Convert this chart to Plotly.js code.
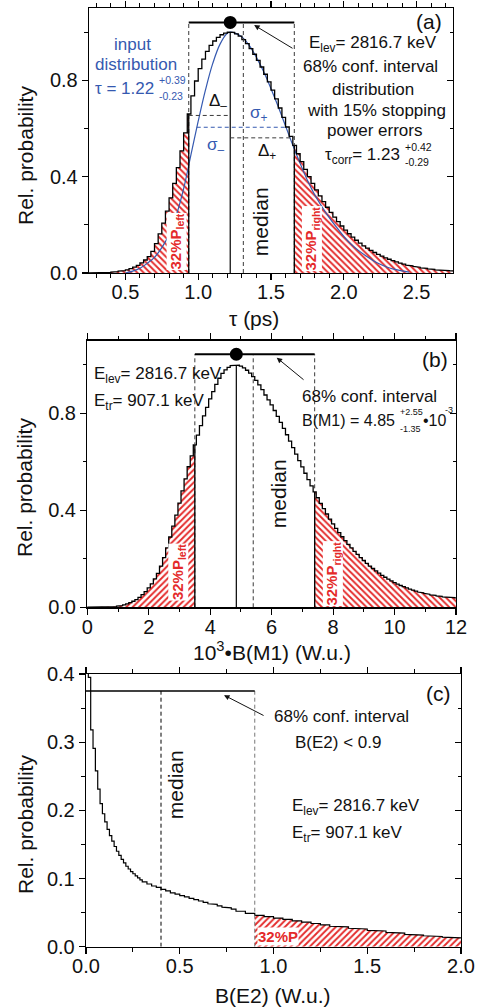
<!DOCTYPE html>
<html><head><meta charset="utf-8">
<script src="https://cdn.plot.ly/plotly-3.0.1.min.js"></script>
<style>html,body{margin:0;padding:0;background:#fff}#chart{width:480px;height:1008px}</style>
</head><body><div id="chart"></div>
<script>
// ---------- Panel (a): lifetime distribution ----------
const tauEdge0 = 0.25, tauBinW = 0.025;
const tauProb = [
 0.000,0.001,0.001,0.002,0.002,0.003,0.004,0.006,0.008,0.010,
 0.013,0.018,0.024,0.032,0.042,0.054,0.068,0.090,0.122,0.162,
 0.207,0.257,0.312,0.372,0.437,0.507,0.582,0.660,0.735,0.797,
 0.848,0.888,0.920,0.945,0.963,0.978,0.989,0.996,1.000,0.999,
 0.993,0.983,0.969,0.952,0.931,0.908,0.883,0.855,0.825,0.793,
 0.759,0.723,0.685,0.646,0.606,0.567,0.530,0.495,0.462,0.430,
 0.400,0.372,0.345,0.320,0.296,0.273,0.252,0.232,0.213,0.195,
 0.178,0.163,0.149,0.136,0.124,0.113,0.103,0.094,0.085,0.077,
 0.070,0.063,0.057,0.051,0.046,0.041,0.037,0.033,0.030,0.027,
 0.024,0.021,0.019,0.017,0.015,0.013,0.012,0.011,0.010,0.009];
const inputTau  = [0.50,0.55,0.60,0.65,0.70,0.75,0.80,0.85,0.90,0.95,1.00,1.05,1.10,1.15,1.20,1.22,1.25,1.30,1.35,1.40,1.45,1.50,1.55,1.60,1.65,1.70,1.75,1.80,1.85,1.90,1.95,2.00,2.05,2.10,2.15,2.20,2.25,2.30,2.35,2.40,2.45];
const inputProb = [0.000,0.008,0.020,0.040,0.065,0.105,0.160,0.240,0.350,0.490,0.630,0.760,0.870,0.950,0.995,1.000,0.997,0.980,0.945,0.895,0.835,0.765,0.690,0.610,0.530,0.455,0.385,0.325,0.275,0.230,0.190,0.152,0.120,0.094,0.072,0.052,0.036,0.024,0.015,0.009,0.004];
const tauLo = 0.935, tauHi = 1.66, tauMode = 1.22, tauMedian = 1.31, confLevelA = 1.04;
const deltaMinusLevel = 0.654, deltaPlusLevel = 0.561, sigmaLevel = 0.605, sigmaLo = 0.99, sigmaHi = 1.61;

// ---------- Panel (b): B(M1) distribution ----------
const bm1Center0 = 0, bm1BinW = 0.1;
const bm1Prob = [
 0,0,0,0,0,0,0,0.001,0.002,0.003,
 0.005,0.007,0.010,0.014,0.019,0.025,0.032,0.041,0.052,0.065,
 0.080,0.097,0.117,0.140,0.170,0.205,0.245,0.290,0.335,0.380,
 0.430,0.480,0.530,0.580,0.625,0.670,0.710,0.750,0.790,0.825,
 0.860,0.890,0.920,0.945,0.965,0.980,0.990,0.997,1.000,0.999,
 0.995,0.988,0.978,0.966,0.952,0.936,0.918,0.898,0.876,0.856,
 0.835,0.812,0.788,0.763,0.738,0.712,0.686,0.659,0.632,0.605,
 0.579,0.553,0.527,0.501,0.476,0.452,0.429,0.407,0.385,0.364,
 0.344,0.326,0.308,0.291,0.275,0.260,0.245,0.231,0.218,0.205,
 0.193,0.181,0.170,0.160,0.150,0.141,0.132,0.124,0.116,0.109,
 0.102,0.096,0.090,0.085,0.080,0.075,0.071,0.067,0.063,0.060,
 0.057,0.054,0.051,0.049,0.047,0.045,0.043,0.042,0.041,0.040,
 0.039];
const bLo = 3.5, bHi = 7.4, bMode = 4.85, bMedian = 5.4, confLevelB = 1.044;

// ---------- Panel (c): B(E2) distribution ----------
const be2Edges = [0,0.0125,0.025,0.0375,0.05,0.0625,0.075,0.0875,0.1,0.1125,0.125,0.1375,0.15,0.1625,0.175,0.1875,0.2,0.2125,0.225,0.2375,0.25,0.2625,0.275,0.2875,0.3,
 0.325,0.35,0.375,0.4,0.425,0.45,0.475,0.5,0.525,0.55,0.575,0.6,0.625,0.65,0.675,0.7,0.725,0.75,0.775,0.8,
 0.85,0.9,0.95,1.0,1.05,1.1,1.15,1.2,1.25,1.3,1.35,1.4,1.45,1.5,1.55,1.6,1.65,1.7,1.75,1.8,1.85,1.9,1.95,2.0];
const be2Prob = [0.9,0.395,0.318,0.291,0.258,0.231,0.210,0.195,0.183,0.172,0.163,0.155,0.147,0.140,0.134,0.128,0.123,0.118,0.114,0.110,0.107,0.104,0.101,0.098,
 0.095,0.092,0.089,0.087,0.084,0.082,0.079,0.077,0.075,0.073,0.071,0.069,0.067,0.065,0.063,0.062,0.060,0.058,0.057,0.055,
 0.052,0.049,0.046,0.044,0.042,0.040,0.038,0.036,0.034,0.032,0.030,0.029,0.027,0.026,0.024,0.023,0.021,0.020,0.018,0.017,0.016,0.015,0.014,0.013];
const be2Limit = 0.9, be2Median = 0.4, confLevelC = 0.375;

// ---------- helpers ----------
const FONT = 'Liberation Sans, Arial, Helvetica, sans-serif';
const RED = '#e42a2a', BLUE = '#3559b0', DASHC = '#3a3a3a';
const tauEdges = Array.from({length: tauProb.length + 1}, (_, i) => tauEdge0 + i * tauBinW);
const bm1Edges = Array.from({length: bm1Prob.length + 1}, (_, i) => bm1Center0 - bm1BinW / 2 + i * bm1BinW);

function stepXY(edges, vals, lo, hi) {
  const x = [], y = [];
  for (let i = 0; i < vals.length; i++) {
    let l = edges[i], r = edges[i + 1];
    if (r <= lo || l >= hi) continue;
    l = Math.max(l, lo); r = Math.min(r, hi);
    x.push(l, r); y.push(vals[i], vals[i]);
  }
  return {x, y};
}
function valueAt(edges, vals, x) {
  for (let i = 0; i < vals.length; i++) if (x >= edges[i] && x < edges[i + 1]) return vals[i];
  return 0;
}
function line(xa, ya, x, y, color, width, dash, extra) {
  return Object.assign({type: 'scatter', mode: 'lines', x, y, xaxis: xa, yaxis: ya,
    line: {color, width, dash: dash || 'solid'}, hoverinfo: 'skip'}, extra || {});
}
function hatch(xa, ya, s, shape) {
  return {type: 'scatter', mode: 'lines', x: s.x, y: s.y, xaxis: xa, yaxis: ya, fill: 'tozeroy',
    fillcolor: 'white', line: {width: 0, color: RED}, hoverinfo: 'skip',
    fillpattern: {shape, fgcolor: RED, bgcolor: 'white', size: 4.5, solidity: 0.42, fillmode: 'replace'}};
}
const DASH = '4px,3px';
const traces = [];

// Panel (a) traces
traces.push(hatch('x', 'y', stepXY(tauEdges, tauProb, -Infinity, tauLo), '\\'));
traces.push(hatch('x', 'y', stepXY(tauEdges, tauProb, tauHi, Infinity), '\\'));
traces.push(line('x', 'y', inputTau, inputProb, BLUE, 1.2, 'solid', {line: {color: BLUE, width: 1.2, shape: 'spline'}}));
const aCurve = stepXY(tauEdges, tauProb, -Infinity, Infinity);
traces.push(line('x', 'y', aCurve.x, aCurve.y, '#000', 1.3));
traces.push(line('x', 'y', [tauLo, tauLo], [0, confLevelA], DASHC, 1, DASH));
traces.push(line('x', 'y', [tauHi, tauHi], [0, confLevelA], DASHC, 1, DASH));
traces.push(line('x', 'y', [tauLo, tauLo], [0, valueAt(tauEdges, tauProb, tauLo)], '#000', 1.3));
traces.push(line('x', 'y', [tauHi, tauHi], [0, valueAt(tauEdges, tauProb, tauHi)], '#000', 1.3));
traces.push(line('x', 'y', [tauMedian, tauMedian], [0, confLevelA], DASHC, 1, DASH));
traces.push(line('x', 'y', [tauMode, tauMode], [0, Math.max(...tauProb)], '#000', 1.2));
traces.push(line('x', 'y', [tauLo, tauMode], [deltaMinusLevel, deltaMinusLevel], DASHC, 1, DASH));
traces.push(line('x', 'y', [sigmaLo, sigmaHi], [sigmaLevel, sigmaLevel], BLUE, 1, DASH));
traces.push(line('x', 'y', [tauMode, tauHi], [deltaPlusLevel, deltaPlusLevel], DASHC, 1, DASH));
traces.push(line('x', 'y', [tauLo, tauHi], [confLevelA, confLevelA], '#000', 2));
traces.push({type: 'scatter', mode: 'markers', x: [tauMode], y: [confLevelA], xaxis: 'x', yaxis: 'y',
  marker: {color: '#000', size: 13}, hoverinfo: 'skip'});

// Panel (b) traces
traces.push(hatch('x2', 'y2', stepXY(bm1Edges, bm1Prob, -Infinity, bLo), '/'));
traces.push(hatch('x2', 'y2', stepXY(bm1Edges, bm1Prob, bHi, Infinity), '\\'));
const bCurve = stepXY(bm1Edges, bm1Prob, -Infinity, Infinity);
traces.push(line('x2', 'y2', bCurve.x, bCurve.y, '#000', 1.3));
traces.push(line('x2', 'y2', [bLo, bLo], [0, confLevelB], DASHC, 1, DASH));
traces.push(line('x2', 'y2', [bHi, bHi], [0, confLevelB], DASHC, 1, DASH));
traces.push(line('x2', 'y2', [bLo, bLo], [0, valueAt(bm1Edges, bm1Prob, bLo)], '#000', 1.3));
traces.push(line('x2', 'y2', [bHi, bHi], [0, valueAt(bm1Edges, bm1Prob, bHi)], '#000', 1.3));
traces.push(line('x2', 'y2', [bMedian, bMedian], [0, confLevelB], DASHC, 1, DASH));
traces.push(line('x2', 'y2', [bMode, bMode], [0, Math.max(...bm1Prob)], '#000', 1.2));
traces.push(line('x2', 'y2', [bLo, bHi], [confLevelB, confLevelB], '#000', 2));
traces.push({type: 'scatter', mode: 'markers', x: [bMode], y: [confLevelB], xaxis: 'x2', yaxis: 'y2',
  marker: {color: '#000', size: 13}, hoverinfo: 'skip'});

// Panel (c) traces
traces.push(hatch('x3', 'y3', stepXY(be2Edges, be2Prob, be2Limit, Infinity), '/'));
const cCurve = stepXY(be2Edges, be2Prob, -Infinity, Infinity);
traces.push(line('x3', 'y3', cCurve.x, cCurve.y, '#000', 1.2));
traces.push(line('x3', 'y3', [be2Median, be2Median], [0, confLevelC], '#000', 1, DASH));
traces.push(line('x3', 'y3', [be2Limit, be2Limit], [0, confLevelC], '#777', 1, DASH));
traces.push(line('x3', 'y3', [0, be2Limit], [confLevelC, confLevelC], '#000', 1.5));

// right-side overlay axes (ticks inside) need a trace each
['y4', 'y5', 'y6'].forEach((ya, i) => traces.push({type: 'scatter', mode: 'lines', x: [], y: [],
  xaxis: ['x', 'x2', 'x3'][i], yaxis: ya, hoverinfo: 'skip'}));

// ---------- axes ----------
const tickFont = {family: FONT, size: 20, color: '#111'};
function xAxis(domain, anchor, range, dtick, minorDtick, fmt) {
  return {domain, anchor, range, dtick, tick0: 0, tickformat: fmt, ticks: 'outside', ticklen: 6, tickwidth: 1.2,
    tickcolor: '#000', minor: {dtick: minorDtick, ticks: 'outside', ticklen: 3.5, tickwidth: 1, tickcolor: '#000'},
    mirror: 'ticks', showline: true, linecolor: '#000', linewidth: 1.3, showgrid: false, zeroline: false,
    tickfont: tickFont, ticklabelstandoff: -5, fixedrange: true};
}
function yAxis(domain, anchor, range, dtick, minorDtick) {
  return {domain, anchor, range, dtick, tick0: 0, tickformat: '.1f', ticks: 'outside', ticklen: 6, tickwidth: 1.2,
    tickcolor: '#000', minor: {dtick: minorDtick, ticks: 'outside', ticklen: 3.5, tickwidth: 1, tickcolor: '#000'},
    showline: true, linecolor: '#000', linewidth: 1.3, showgrid: false, zeroline: false,
    tickfont: tickFont, fixedrange: true};
}
function yRight(anchor, over, range, dtick, minorDtick) {
  return {anchor, overlaying: over, side: 'right', range, dtick, tick0: 0, ticks: 'inside', ticklen: 6, tickwidth: 1.2,
    tickcolor: '#000', minor: {dtick: minorDtick, ticks: 'inside', ticklen: 3.5, tickwidth: 1, tickcolor: '#000'},
    showline: true, linecolor: '#000', linewidth: 1.3, showgrid: false, zeroline: false, showticklabels: false, fixedrange: true};
}
const W = 480, H = 1008;
const layout = {
  width: W, height: H, margin: {l: 0, r: 0, t: 0, b: 0}, paper_bgcolor: '#fff', plot_bgcolor: '#fff',
  showlegend: false, font: {family: FONT, color: '#111'},
  xaxis:  xAxis([89 / W, 453 / W], 'y', [0.25, 2.75], 0.5, 0.1, '.1f'),
  yaxis:  yAxis([(H - 273) / H, (H - 8) / H], 'x', [0, 1.1], 0.4, 0.2),
  yaxis4: yRight('x', 'y', [0, 1.1], 0.4, 0.2),
  xaxis2: xAxis([87.3 / W, 456 / W], 'y2', [0, 12], 2, 1, 'd'),
  yaxis2: yAxis([(H - 607.3) / H, (H - 340.7) / H], 'x2', [0, 1.1], 0.4, 0.2),
  yaxis5: yRight('x2', 'y2', [0, 1.1], 0.4, 0.2),
  xaxis3: xAxis([86 / W, 461 / W], 'y3', [0, 2], 0.5, 0.25, '.1f'),
  yaxis3: yAxis([(H - 946.7) / H, (H - 674) / H], 'x3', [0, 0.4], 0.1, 0.05),
  yaxis6: yRight('x3', 'y3', [0, 0.4], 0.1, 0.05),
  annotations: []
};

// ---------- annotations ----------
function txt(xr, yr, x, y, text, o) {
  o = o || {};
  return Object.assign({xref: xr, yref: yr, x, y, text, showarrow: false, xanchor: 'center', yanchor: 'middle',
    font: {family: FONT, size: o.size || 17, color: o.color || '#111'}}, o.extra || {});
}
function arrow(xr, yr, hx, hy, tx, ty) {
  return {xref: xr, yref: yr, axref: xr, ayref: yr, x: hx, y: hy, ax: tx, ay: ty, text: '', showarrow: true,
    arrowhead: 2, arrowsize: 1.1, arrowwidth: 1, arrowcolor: '#111'};
}
function redLabel(xr, yr, x, y, text, angle) {
  return {xref: xr, yref: yr, x, y, text, showarrow: false, textangle: angle, bgcolor: 'white', borderpad: 0,
    font: {family: FONT, size: 15, color: RED, weight: 'bold'}, xanchor: 'center', yanchor: 'middle'};
}
const A = layout.annotations;
// axis titles (paper coordinates)
const axisTitles = [
  {text: 'Rel. probability', x: 25, y: 156, angle: -90},
  {text: 'Rel. probability', x: 25, y: 488, angle: -90},
  {text: 'Rel. probability', x: 25, y: 825, angle: -90},
  {text: 'τ (ps)', x: 254, y: 318, angle: 0},
  {text: '10<sup>3</sup>•B(M1) (W.u.)', x: 272, y: 651, angle: 0},
  {text: 'B(E2) (W.u.)', x: 273, y: 995, angle: 0}
];
axisTitles.forEach(t => A.push({xref: 'paper', yref: 'paper', x: t.x / W, y: (H - t.y) / H, text: t.text,
  textangle: t.angle, showarrow: false, xanchor: 'center', yanchor: 'middle',
  font: {family: FONT, size: 21, color: '#111'}}));
// (a)
A.push(txt('x', 'y', 2.582, 1.042, '(a)', {size: 21}));
A.push(txt('x', 'y', 0.548, 0.95, 'input', {color: BLUE}));
A.push(txt('x', 'y', 0.573, 0.867, 'distribution', {color: BLUE}));
A.push(txt('x', 'y', 0.712, 0.765, 'τ = 1.22', {color: BLUE, extra: {xanchor: 'right'}}));
A.push(txt('x', 'y', 0.716, 0.80, '+0.39', {color: BLUE, size: 10.5, extra: {xanchor: 'left'}}));
A.push(txt('x', 'y', 0.716, 0.735, '-0.23', {color: BLUE, size: 10.5, extra: {xanchor: 'left'}}));
A.push(txt('x', 'y', 1.137, 0.71, 'Δ<sub>–</sub>'));
A.push(txt('x', 'y', 1.418, 0.658, 'σ<sub>+</sub>', {color: BLUE}));
A.push(txt('x', 'y', 1.121, 0.526, 'σ<sub>–</sub>', {color: BLUE}));
A.push(txt('x', 'y', 1.475, 0.503, 'Δ<sub>+</sub>'));
A.push(txt('x', 'y', 2.199, 0.950, 'E<sub>lev</sub>= 2816.7 keV'));
A.push(txt('x', 'y', 2.183, 0.858, '68% conf. interval'));
A.push(txt('x', 'y', 2.199, 0.7625, 'distribution'));
A.push(txt('x', 'y', 2.226, 0.675, 'with 15% stopping'));
A.push(txt('x', 'y', 2.2125, 0.592, 'power errors'));
A.push(txt('x', 'y', 2.40, 0.485, 'τ<sub>corr</sub>= 1.23', {extra: {xanchor: 'right'}}));
A.push(txt('x', 'y', 2.406, 0.522, '+0.42', {size: 10.5, extra: {xanchor: 'left'}}));
A.push(txt('x', 'y', 2.406, 0.462, '-0.29', {size: 10.5, extra: {xanchor: 'left'}}));
A.push(arrow('x', 'y', 1.384, 1.029, 1.658, 0.929));
A.push(txt('x', 'y', 1.43, 0.214, 'median', {size: 21, extra: {textangle: -90}}));
A.push(redLabel('x', 'y', 0.853, 0.13, '32%P<sub>left</sub>', -90));
A.push(redLabel('x', 'y', 1.778, 0.145, '32%P<sub>right</sub>', -90));
// (b)
A.push(txt('x2', 'y2', 11.32, 1.023, '(b)', {size: 21}));
A.push(txt('x2', 'y2', 0.153, 0.959, 'E<sub>lev</sub>= 2816.7 keV', {extra: {xanchor: 'left'}}));
A.push(txt('x2', 'y2', 0.153, 0.848, 'E<sub>tr</sub>= 907.1 keV', {extra: {xanchor: 'left'}}));
A.push(txt('x2', 'y2', 9.17, 0.868, '68% conf. interval'));
A.push(txt('x2', 'y2', 10.08, 0.77, 'B(M1) = 4.85', {size: 16, extra: {xanchor: 'right'}}));
A.push(txt('x2', 'y2', 10.11, 0.806, '+2.55', {size: 9, extra: {xanchor: 'left'}}));
A.push(txt('x2', 'y2', 10.11, 0.736, '-1.35', {size: 9, extra: {xanchor: 'left'}}));
A.push(txt('x2', 'y2', 10.85, 0.77, '•10', {size: 16, extra: {xanchor: 'left'}}));
A.push(txt('x2', 'y2', 11.58, 0.815, '-3', {size: 9, extra: {xanchor: 'left'}}));
A.push(arrow('x2', 'y2', 6.165, 1.03, 7.087, 0.934));
A.push(txt('x2', 'y2', 6.22, 0.468, 'median', {size: 21, extra: {textangle: -90}}));
A.push(redLabel('x2', 'y2', 2.95, 0.145, '32%P<sub>left</sub>', -90));
A.push(redLabel('x2', 'y2', 7.98, 0.141, '32%P<sub>right</sub>', -90));
// (c)
A.push(txt('x3', 'y3', 1.879, 0.372, '(c)', {size: 21}));
A.push(txt('x3', 'y3', 1.365, 0.337, '68% conf. interval'));
A.push(txt('x3', 'y3', 1.346, 0.299, 'B(E2) &lt; 0.9'));
A.push(txt('x3', 'y3', 1.088, 0.205, 'E<sub>lev</sub>= 2816.7 keV', {extra: {xanchor: 'left'}}));
A.push(txt('x3', 'y3', 1.088, 0.165, 'E<sub>tr</sub>= 907.1 keV', {extra: {xanchor: 'left'}}));
A.push(arrow('x3', 'y3', 0.736, 0.369, 0.955, 0.338));
A.push(txt('x3', 'y3', 0.475, 0.237, 'median', {size: 21, extra: {textangle: -90}}));
A.push(redLabel('x3', 'y3', 1.026, 0.0157, '32%P', 0));

Plotly.newPlot('chart', traces, layout, {staticPlot: true, displayModeBar: false});
</script></body></html>
